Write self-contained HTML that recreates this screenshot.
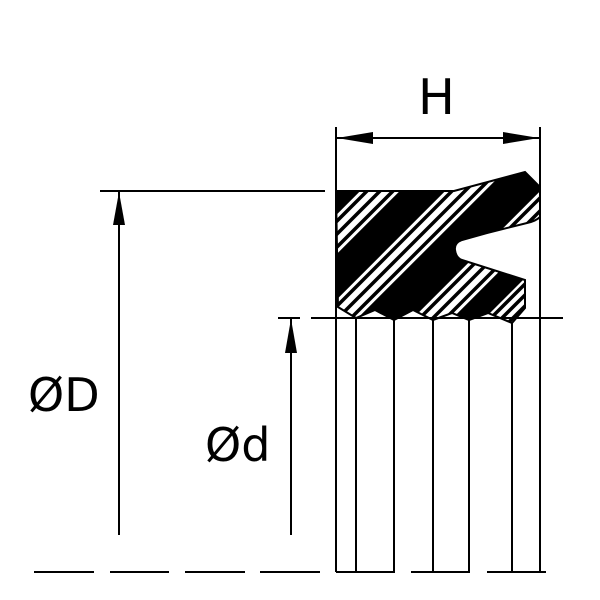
<!DOCTYPE html>
<html><head><meta charset="utf-8"><style>html,body{margin:0;padding:0;background:#fff}svg{display:block}</style></head>
<body>
<svg width="600" height="600" viewBox="0 0 600 600" xmlns="http://www.w3.org/2000/svg">
<defs>
<clipPath id="seal"><path id="sp" d="M336,191 L454,191 L525,172 L540,187 L540,217 Q536,221 527,223 L487,233 L462,240 Q454,243 455,250 Q456,258 462,260 L525,280 L525,308 L512,323 L488,313 L469,320 L452,313 L433,320 L413,310 L394,320 L375,310 L356,318 L338,307 Z"/></clipPath>
</defs>
<g clip-path="url(#seal)">
<rect x="300" y="150" width="280" height="200" fill="#000"/>
<g stroke-linecap="butt">
<line x1="421" y1="150" x2="221" y2="350" stroke="#fff" stroke-width="28"/>
<line x1="408" y1="150" x2="208" y2="350" stroke="#000" stroke-width="3.5"/>
<line x1="421" y1="150" x2="221" y2="350" stroke="#000" stroke-width="3.5"/>
<line x1="434" y1="150" x2="234" y2="350" stroke="#000" stroke-width="3.5"/>

<line x1="506" y1="150" x2="306" y2="350" stroke="#fff" stroke-width="28"/>
<line x1="493" y1="150" x2="293" y2="350" stroke="#000" stroke-width="3.5"/>
<line x1="506" y1="150" x2="306" y2="350" stroke="#000" stroke-width="3.5"/>
<line x1="519" y1="150" x2="319" y2="350" stroke="#000" stroke-width="3.5"/>

<line x1="601" y1="150" x2="401" y2="350" stroke="#fff" stroke-width="28"/>
<line x1="588" y1="150" x2="388" y2="350" stroke="#000" stroke-width="3.5"/>
<line x1="601" y1="150" x2="401" y2="350" stroke="#000" stroke-width="3.5"/>
<line x1="614" y1="150" x2="414" y2="350" stroke="#000" stroke-width="3.5"/>

<line x1="670" y1="150" x2="470" y2="350" stroke="#fff" stroke-width="24"/>
<line x1="659" y1="150" x2="459" y2="350" stroke="#000" stroke-width="3.5"/>
<line x1="670" y1="150" x2="470" y2="350" stroke="#000" stroke-width="3.5"/>
<line x1="681" y1="150" x2="481" y2="350" stroke="#000" stroke-width="3.5"/>
</g>
</g>
<use href="#sp" fill="none" stroke="#000" stroke-width="2"/>

<g stroke="#000" stroke-width="2" fill="none">
<line x1="336" y1="127" x2="336" y2="572"/>
<line x1="540" y1="127" x2="540" y2="572"/>
<line x1="356" y1="318" x2="356" y2="572"/>
<line x1="394" y1="320" x2="394" y2="572"/>
<line x1="433" y1="320" x2="433" y2="572"/>
<line x1="469" y1="320" x2="469" y2="572"/>
<line x1="512" y1="323" x2="512" y2="572"/>
<line x1="336" y1="138" x2="540" y2="138"/>
<line x1="100" y1="191" x2="325" y2="191"/>
<line x1="119" y1="191" x2="119" y2="535"/>
<line x1="278" y1="318" x2="300" y2="318"/>
<line x1="291" y1="318" x2="291" y2="535"/>
<line x1="311" y1="318" x2="563" y2="318"/>
<path d="M34,572H94M110,572H169M185,572H245M260,572H320M336,572H395M411,572H470M487,572H546"/>
</g>
<g fill="#000">
<path d="M337,138 L373,132 L373,144 Z"/>
<path d="M539,138 L503,132 L503,144 Z"/>
<path d="M119,192 L113,225 L125,225 Z"/>
<path d="M291,319 L285,353 L297,353 Z"/>
</g>
<g font-family="DejaVu Sans, sans-serif" fill="#000">
<text x="418" y="114" font-size="49">H</text>
<text x="28" y="411" font-size="46">ØD</text>
<text x="205" y="461" font-size="46">Ød</text>
</g>
</svg>
</body></html>
